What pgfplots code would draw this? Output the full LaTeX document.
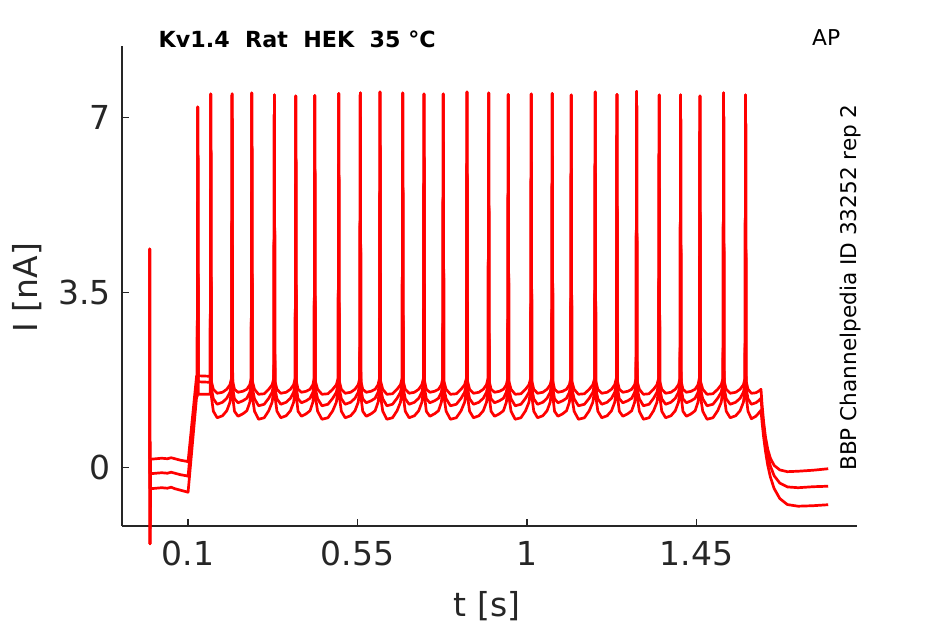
\documentclass[border=0pt]{standalone}
\usepackage{pgfplots}
\usepackage{pgfplotstable}
\pgfplotsset{compat=1.18}
\usepackage{fontspec}
\setmainfont{DejaVu Sans}
\definecolor{axcol}{HTML}{262626}

\pgfplotstableread{
t a b c
-0.0022 0.17 -0.13 -0.43
-0.0018 4.37 4.37 4.37
-0.0012 -1.53 -1.53 -1.53
0.0005 0.16 -0.13 -0.43
0.0150 0.17 -0.12 -0.42
0.0300 0.18 -0.11 -0.41
0.0450 0.17 -0.12 -0.42
0.0550 0.19 -0.10 -0.40
0.0650 0.17 -0.12 -0.43
0.0800 0.14 -0.15 -0.46
0.0950 0.12 -0.17 -0.49
0.1000 0.11 -0.18 -0.50
0.1225 1.82 1.68 1.40
0.1243 1.84 1.70 1.42
0.1258 7.21 7.21 7.21
0.1273 1.83 1.71 1.46
0.1588 1.82 1.70 1.46
0.1603 7.47 7.47 7.47
0.1618 1.72 1.58 1.42
0.1671 1.56 1.37 1.12
0.1773 1.48 1.26 0.99
0.1914 1.50 1.30 1.03
0.2028 1.56 1.38 1.13
0.2112 1.65 1.50 1.30
0.2154 1.78 1.68 1.56
0.2169 7.47 7.47 7.47
0.2184 1.72 1.58 1.42
0.2232 1.56 1.37 1.12
0.2326 1.50 1.29 1.02
0.2457 1.52 1.33 1.07
0.2561 1.56 1.38 1.13
0.2640 1.65 1.50 1.30
0.2677 1.78 1.68 1.56
0.2692 7.49 7.49 7.49
0.2707 1.72 1.58 1.42
0.2764 1.56 1.37 1.12
0.2872 1.46 1.23 0.96
0.3022 1.47 1.26 0.99
0.3142 1.56 1.38 1.13
0.3232 1.65 1.50 1.30
0.3277 1.78 1.68 1.56
0.3292 7.45 7.45 7.45
0.3307 1.72 1.58 1.42
0.3360 1.56 1.37 1.12
0.3462 1.48 1.26 0.99
0.3604 1.50 1.30 1.03
0.3718 1.56 1.38 1.13
0.3803 1.65 1.50 1.30
0.3845 1.78 1.68 1.56
0.3860 7.43 7.43 7.43
0.3875 1.72 1.58 1.42
0.3920 1.56 1.37 1.12
0.4011 1.50 1.29 1.02
0.4137 1.52 1.33 1.07
0.4238 1.56 1.38 1.13
0.4314 1.65 1.50 1.30
0.4349 1.78 1.68 1.56
0.4364 7.44 7.44 7.44
0.4379 1.72 1.58 1.42
0.4440 1.56 1.37 1.12
0.4555 1.46 1.23 0.96
0.4714 1.47 1.26 0.99
0.4842 1.56 1.38 1.13
0.4937 1.65 1.50 1.30
0.4986 1.78 1.68 1.56
0.5001 7.48 7.48 7.48
0.5016 1.72 1.58 1.42
0.5070 1.56 1.37 1.12
0.5173 1.48 1.26 0.99
0.5317 1.50 1.30 1.03
0.5432 1.56 1.38 1.13
0.5518 1.65 1.50 1.30
0.5560 1.78 1.68 1.56
0.5575 7.49 7.49 7.49
0.5590 1.72 1.58 1.42
0.5638 1.56 1.37 1.12
0.5732 1.50 1.29 1.02
0.5863 1.52 1.33 1.07
0.5967 1.56 1.38 1.13
0.6046 1.65 1.50 1.30
0.6083 1.78 1.68 1.56
0.6098 7.51 7.51 7.51
0.6113 1.72 1.58 1.42
0.6170 1.56 1.37 1.12
0.6279 1.46 1.23 0.96
0.6429 1.47 1.26 0.99
0.6550 1.56 1.38 1.13
0.6640 1.65 1.50 1.30
0.6685 1.78 1.68 1.56
0.6700 7.49 7.49 7.49
0.6715 1.72 1.58 1.42
0.6768 1.56 1.37 1.12
0.6870 1.48 1.26 0.99
0.7011 1.50 1.30 1.03
0.7125 1.56 1.38 1.13
0.7209 1.65 1.50 1.30
0.7251 1.78 1.68 1.56
0.7266 7.47 7.47 7.47
0.7281 1.72 1.58 1.42
0.7327 1.56 1.37 1.12
0.7420 1.50 1.29 1.02
0.7548 1.52 1.33 1.07
0.7650 1.56 1.38 1.13
0.7727 1.65 1.50 1.30
0.7763 1.78 1.68 1.56
0.7778 7.47 7.47 7.47
0.7793 1.72 1.58 1.42
0.7853 1.56 1.37 1.12
0.7967 1.46 1.23 0.96
0.8124 1.47 1.26 0.99
0.8250 1.56 1.38 1.13
0.8344 1.65 1.50 1.30
0.8392 1.78 1.68 1.56
0.8407 7.51 7.51 7.51
0.8422 1.72 1.58 1.42
0.8476 1.56 1.37 1.12
0.8580 1.48 1.26 0.99
0.8724 1.50 1.30 1.03
0.8839 1.56 1.38 1.13
0.8925 1.65 1.50 1.30
0.8968 1.78 1.68 1.56
0.8983 7.49 7.49 7.49
0.8998 1.72 1.58 1.42
0.9046 1.56 1.37 1.12
0.9139 1.50 1.29 1.02
0.9270 1.52 1.33 1.07
0.9374 1.56 1.38 1.13
0.9452 1.65 1.50 1.30
0.9489 1.78 1.68 1.56
0.9504 7.46 7.46 7.46
0.9519 1.72 1.58 1.42
0.9577 1.56 1.37 1.12
0.9687 1.46 1.23 0.96
0.9840 1.47 1.26 0.99
0.9962 1.56 1.38 1.13
1.0053 1.65 1.50 1.30
1.0099 1.78 1.68 1.56
1.0114 7.47 7.47 7.47
1.0129 1.72 1.58 1.42
1.0181 1.56 1.37 1.12
1.0281 1.48 1.26 0.99
1.0421 1.50 1.30 1.03
1.0533 1.56 1.38 1.13
1.0616 1.65 1.50 1.30
1.0657 1.78 1.68 1.56
1.0672 7.48 7.48 7.48
1.0687 1.72 1.58 1.42
1.0732 1.56 1.37 1.12
1.0823 1.50 1.29 1.02
1.0949 1.52 1.33 1.07
1.1050 1.56 1.38 1.13
1.1126 1.65 1.50 1.30
1.1161 1.78 1.68 1.56
1.1176 7.45 7.45 7.45
1.1191 1.72 1.58 1.42
1.1252 1.56 1.37 1.12
1.1367 1.46 1.23 0.96
1.1526 1.47 1.26 0.99
1.1654 1.56 1.38 1.13
1.1749 1.65 1.50 1.30
1.1798 1.78 1.68 1.56
1.1813 7.51 7.51 7.51
1.1828 1.72 1.58 1.42
1.1882 1.56 1.37 1.12
1.1986 1.48 1.26 0.99
1.2130 1.50 1.30 1.03
1.2245 1.56 1.38 1.13
1.2331 1.65 1.50 1.30
1.2374 1.78 1.68 1.56
1.2389 7.46 7.46 7.46
1.2404 1.72 1.58 1.42
1.2452 1.56 1.37 1.12
1.2546 1.50 1.29 1.02
1.2677 1.52 1.33 1.07
1.2781 1.56 1.38 1.13
1.2860 1.65 1.50 1.30
1.2897 1.78 1.68 1.56
1.2912 7.52 7.52 7.52
1.2927 1.72 1.58 1.42
1.2984 1.56 1.37 1.12
1.3092 1.46 1.23 0.96
1.3242 1.47 1.26 0.99
1.3362 1.56 1.38 1.13
1.3452 1.65 1.50 1.30
1.3497 1.78 1.68 1.56
1.3512 7.45 7.45 7.45
1.3527 1.72 1.58 1.42
1.3580 1.56 1.37 1.12
1.3682 1.48 1.26 0.99
1.3824 1.50 1.30 1.03
1.3938 1.56 1.38 1.13
1.4023 1.65 1.50 1.30
1.4065 1.78 1.68 1.56
1.4080 7.45 7.45 7.45
1.4095 1.72 1.58 1.42
1.4142 1.56 1.37 1.12
1.4234 1.50 1.29 1.02
1.4362 1.52 1.33 1.07
1.4465 1.56 1.38 1.13
1.4542 1.65 1.50 1.30
1.4578 1.78 1.68 1.56
1.4593 7.43 7.43 7.43
1.4608 1.72 1.58 1.42
1.4668 1.56 1.37 1.12
1.4782 1.46 1.23 0.96
1.4939 1.47 1.26 0.99
1.5065 1.56 1.38 1.13
1.5159 1.65 1.50 1.30
1.5207 1.78 1.68 1.56
1.5222 7.49 7.49 7.49
1.5237 1.72 1.58 1.42
1.5292 1.56 1.37 1.12
1.5397 1.48 1.26 0.99
1.5543 1.50 1.30 1.03
1.5660 1.56 1.38 1.13
1.5748 1.65 1.50 1.30
1.5791 1.78 1.68 1.56
1.5806 7.45 7.45 7.45
1.5821 1.72 1.58 1.42
1.5870 1.56 1.37 1.12
1.5960 1.48 1.26 0.97
1.6080 1.49 1.29 1.02
1.6150 1.52 1.33 1.08
1.6215 1.56 1.38 1.14
1.6245 1.240 1.101 0.888
1.6285 0.908 0.797 0.602
1.6335 0.604 0.499 0.313
1.6395 0.358 0.236 0.039
1.6465 0.179 0.021 -0.198
1.6565 0.036 -0.171 -0.428
1.6715 -0.054 -0.318 -0.627
1.6915 -0.089 -0.394 -0.747
1.7200 -0.08 -0.41 -0.78
1.7600 -0.06 -0.39 -0.77
1.8000 -0.03 -0.38 -0.75
}\traces

\begin{document}
\begin{tikzpicture}
\path[use as bounding box] (0,0) rectangle (472.5pt,312pt);
\begin{axis}[
  at={(61pt,49pt)}, anchor=south west,
  scale only axis, width=367.5pt, height=240pt,
  xmin=-0.0755, xmax=1.8765, ymin=-1.176, ymax=8.43,
  axis x line=bottom, axis y line=left,
  axis line style={-, color=axcol, line width=0.6pt},
  tick align=inside, major tick length=3.5pt,
  tick style={color=axcol, line width=0.6pt},
  xtick={0.1,0.55,1,1.45}, xticklabels={0.1,0.55,1,1.45},
  ytick={0,3.5,7}, yticklabels={0,3.5,7},
  /pgf/number format/assume math mode=true,
  ticklabel style={font=\fontsize{16.5}{19}\selectfont, color=axcol},
  xticklabel style={yshift=-4pt},
  yticklabel style={xshift=-2pt},
  clip=false,
]
\addplot[red, line width=1.35pt, line join=round] table[x=t,y=c]{\traces};
\addplot[red, line width=1.35pt, line join=round] table[x=t,y=b]{\traces};
\addplot[red, line width=1.35pt, line join=round] table[x=t,y=a]{\traces};
\end{axis}
\node[anchor=base, inner sep=0pt, font=\fontsize{16.5}{19}\selectfont, text=axcol] at (243.5pt,3.65pt) {t [s]};
\node[anchor=base, rotate=90, inner sep=0pt, font=\fontsize{16.5}{19}\selectfont, text=axcol] at (18.75pt,168.25pt) {I [nA]};
\node[anchor=base west, inner sep=0pt, font=\fontsize{11.1}{13}\selectfont\bfseries] at (79.15pt,288.35pt) {Kv1.4\ \ Rat\ \ HEK\ \ 35 °C};
\node[anchor=base west, inner sep=0pt, font=\fontsize{10.9}{13}\selectfont] at (405.85pt,289pt) {AP};
\node[anchor=base, rotate=90, inner sep=0pt, font=\fontsize{10.8}{13}\selectfont] at (428.25pt,168.25pt) {BBP Channelpedia ID 33252 rep 2};
\end{tikzpicture}
\end{document}
